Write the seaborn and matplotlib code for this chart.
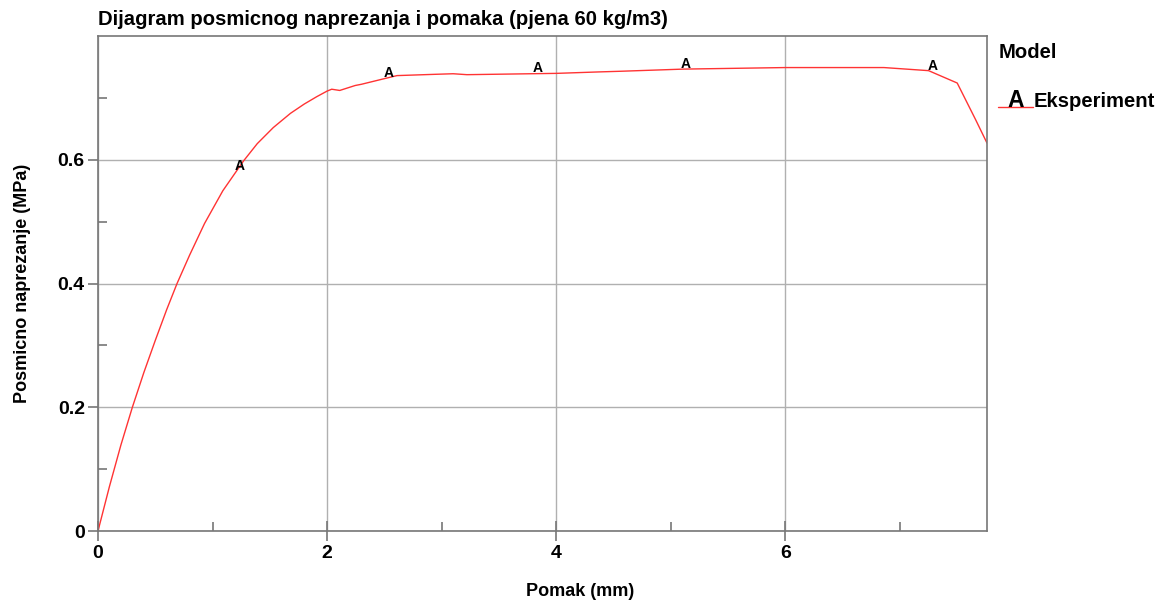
import numpy as np
import pandas as pd
import seaborn as sns
import matplotlib.pyplot as plt
from matplotlib.lines import Line2D

# curve
pomak = [0, 0.1, 0.2, 0.3, 0.4, 0.5, 0.6, 0.69, 0.80, 0.93, 1.09, 1.27, 1.39,
         1.53, 1.68, 1.80, 1.91, 2.00, 2.04, 2.11, 2.245, 2.30, 2.52, 2.61,
         2.93, 3.10, 3.22, 4.00, 4.38, 4.56, 5.11, 6.00, 6.86, 7.25, 7.50,
         7.66, 7.76]
naprezanje = [0, 0.072, 0.139, 0.200, 0.256, 0.308, 0.358, 0.400, 0.446, 0.497,
              0.550, 0.598, 0.626, 0.652, 0.675, 0.690, 0.702, 0.711, 0.714,
              0.712, 0.720, 0.722, 0.732, 0.736, 0.738, 0.739, 0.7375, 0.7396,
              0.742, 0.743, 0.7465, 0.749, 0.749, 0.744, 0.724, 0.665, 0.627]

# positions of the "A" symbols
mark_x = [1.24, 2.54, 3.84, 5.13, 7.29]
mark_y = [0.590, 0.740, 0.748, 0.755, 0.752]

model = "Eksperiment"

df = pd.DataFrame({'Pomak': pomak, 'Naprezanje': naprezanje})

sns.set_style("white")
plt.rcParams['font.family'] = ['Liberation Sans', 'DejaVu Sans']
plt.rcParams['font.weight'] = 'bold'
plt.rcParams['text.color'] = 'black'
plt.rcParams['axes.labelcolor'] = 'black'
plt.rcParams['xtick.color'] = 'black'
plt.rcParams['ytick.color'] = 'black'

red = '#ff3333'
grey = '#777777'

fig = plt.figure(figsize=(11.64, 6.06), dpi=100)
ax = fig.add_axes([98/1164, 1 - 531/606, 889/1164, 495/606])

sns.lineplot(data=df, x='Pomak', y='Naprezanje', sort=False, estimator=None,
             color=red, linewidth=1.0, ax=ax)

for mx, my in zip(mark_x, mark_y):
    ax.text(mx, my, 'A', ha='center', va='center', fontsize=10,
            fontweight='bold', color='black')

ax.set_xlim(0, 7.76)
ax.set_ylim(0, 0.8)
ax.set_xticks([0, 2, 4, 6])
ax.set_xticks([1, 3, 5, 7], minor=True)
ax.set_yticks([0, 0.2, 0.4, 0.6])
ax.set_yticklabels(['0', '0.2', '0.4', '0.6'])
ax.set_yticks([0.1, 0.3, 0.5, 0.7], minor=True)

ax.grid(True, which='major', color='#b0b0b0', linewidth=1.0)
ax.set_axisbelow(True)
for sp in ax.spines.values():
    sp.set_color(grey)
    sp.set_linewidth(1.2)

ax.tick_params(axis='x', which='major', direction='inout', length=14, width=1.2,
               color=grey, labelcolor='black', labelsize=14, pad=3, bottom=True)
ax.tick_params(axis='y', which='major', direction='out', length=7.5, width=1.2,
               color=grey, labelcolor='black', labelsize=14, pad=2, left=True)
ax.tick_params(which='minor', direction='in', length=6.5, width=1.2, color=grey,
               bottom=True, left=True)
for lab in ax.get_xticklabels() + ax.get_yticklabels():
    lab.set_fontweight('bold')

ax.set_title("Dijagram posmicnog naprezanja i pomaka (pjena 60 kg/m3)",
             loc='left', fontsize=14.6, fontweight='bold', pad=8)
ax.set_xlabel("Pomak (mm)", fontsize=13, fontweight='bold')
ax.set_ylabel("Posmicno naprezanje (MPa)", fontsize=13, fontweight='bold')
ax.xaxis.set_label_coords(0.542, -0.105)
ax.yaxis.set_label_coords(-0.075, 0.5)

# legend drawn by hand, like the original
fig.text(999/1164, 1 - 53/606, "Model", fontsize=14.6, fontweight='bold',
         ha='left', va='center')
fig.add_artist(Line2D([998/1164, 1033/1164], [1 - 107/606, 1 - 107/606],
                      color=red, linewidth=1.0))
fig.text(1015.5/1164, 1 - 107/606, "A", fontsize=16.5, fontweight='bold',
         ha='center', va='baseline')
fig.text(1034/1164, 1 - 107/606, model, fontsize=14.6, fontweight='bold',
         ha='left', va='baseline')

fig.savefig("out.png", dpi=100)
